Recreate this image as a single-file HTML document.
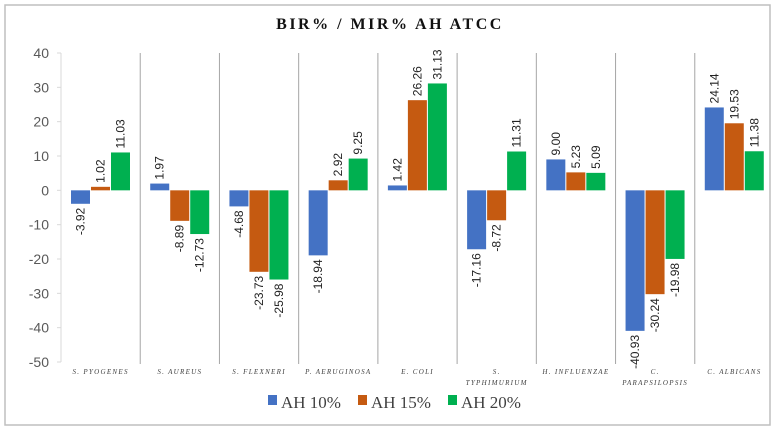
<!DOCTYPE html>
<html><head><meta charset="utf-8"><style>
body{margin:0;background:#fff;}
svg{display:block;font-family:"Liberation Sans",sans-serif;}
</style></head><body>
<svg id="c" width="776" height="432">
<rect x="5" y="5" width="765" height="420" fill="#fff" stroke="#bfbfbf" stroke-width="1.5"/>
<text x="390" y="29" text-anchor="middle" font-family="Liberation Serif,serif" font-weight="bold" font-size="16" letter-spacing="2.5" fill="#111">BIR% / MIR% AH ATCC</text>
<g id="plot"></g>
<g font-family="Liberation Serif,serif" font-size="17" fill="#404040">
<g><rect x="268" y="395" width="9" height="10" fill="#4472C4"/><text x="281" y="408">AH 10%</text></g>
<g><rect x="358" y="395" width="9" height="10" fill="#C55A11"/><text x="371" y="408">AH 15%</text></g>
<g><rect x="448" y="395" width="9" height="10" fill="#00B050"/><text x="461" y="408">AH 20%</text></g>
</g>
</svg>
<script>
const categories=[["S. PYOGENES"],["S. AUREUS"],["S. FLEXNERI"],["P. AERUGINOSA"],["E. COLI"],["S.","TYPHIMURIUM"],["H. INFLUENZAE"],["C.","PARAPSILOPSIS"],["C. ALBICANS"]];
const ah10=[-3.92,1.97,-4.68,-18.94,1.42,-17.16,9.00,-40.93,24.14];
const ah15=[1.02,-8.89,-23.73,2.92,26.26,-8.72,5.23,-30.24,19.53];
const ah20=[11.03,-12.73,-25.98,9.25,31.13,11.31,5.09,-19.98,11.38];
const yTicks=[40,30,20,10,0,-10,-20,-30,-40,-50];
const ns="http://www.w3.org/2000/svg";
const X0=61,X1=774,Y40=53,Y50=362;
const cw=(X1-X0)/categories.length;
function y(v){return Y40+(40-v)*(Y50-Y40)/90;}
const g=document.getElementById('plot');
function mk(t,a,p){const e=document.createElementNS(ns,t);for(const k in a)e.setAttribute(k,a[k]);(p||g).appendChild(e);return e;}
// axis
let ax=mk('line',{x1:X0,x2:X0,y1:y(40),y2:y(-50),stroke:'#d9d9d9'});


yTicks.forEach(t=>{
 const l=mk('line',{x1:X0-4,x2:X0,y1:y(t),y2:y(t),stroke:'#d9d9d9'});
 
 
 const tx=mk('text',{x:X0-12,y:y(t)+5,'text-anchor':'end','font-size':'14',fill:'#595959'});
 tx.textContent=t;
 
 
});
const series=[[ah10,'#4472C4','ah10'],[ah15,'#C55A11','ah15'],[ah20,'#00B050','ah20']];
categories.forEach((c,i)=>{
 const gx=X0+i*cw;
 if(i>0){const s=mk('line',{x1:gx,x2:gx,y1:y(40),y2:y(-50)+2,stroke:'#a6a6a6'});
  
  }
 series.forEach((s,j)=>{
  const v=s[0][i];const bx=gx+10+j*20;const bw=19;
  const r=mk('rect',{x:bx,y:Math.min(y(v),y(0)),width:bw,height:Math.abs(y(v)-y(0)),fill:s[1]});
  
  
  const lbl=v.toFixed(2);const cx=bx+bw/2+4;
  let ty,anchor;
  if(v>=0){ty=y(v)-4;anchor='start';}else{ty=y(v)+4;anchor='end';}
  const t=mk('text',{x:cx,y:ty,'font-size':'12',fill:'#222','text-anchor':anchor,transform:`rotate(-90 ${cx} ${ty})`});
  t.textContent=lbl;
  
  
 });
 c.forEach((line,k)=>{
  const t=mk('text',{x:gx+cw/2,y:374+k*11,'text-anchor':'middle','font-size':'7','font-style':'italic','letter-spacing':'1.3','font-family':'Liberation Serif,serif',fill:'#404040'});
  t.textContent=line;
  
  
 });
});
</script>
</body></html>
